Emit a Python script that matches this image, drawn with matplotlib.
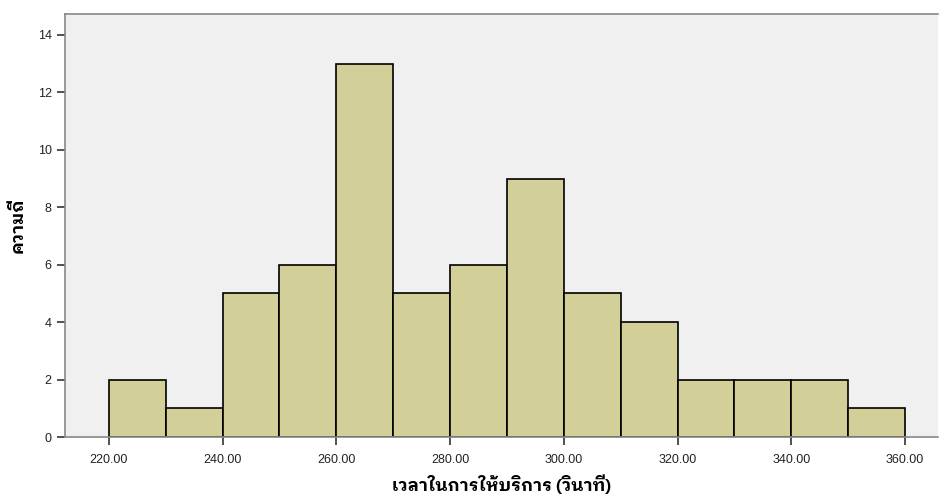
import numpy as np
import matplotlib
matplotlib.use("Agg")
import matplotlib.pyplot as plt

# histogram bins (seconds) and counts
bin_edges = [220, 230, 240, 250, 260, 270, 280, 290, 300, 310, 320, 330, 340, 350, 360]
counts = [2, 1, 5, 6, 13, 5, 6, 9, 5, 4, 2, 2, 2, 1]
x_ticks = [220, 240, 260, 280, 300, 320, 340, 360]
y_ticks = [0, 2, 4, 6, 8, 10, 12, 14]
x_label = "เวลาในการให้บริการ (วินาที)"
y_label = "ความถี่"

thai_fonts = ['IBM Plex Sans Thai Looped', 'Noto Sans Thai Looped', 'DejaVu Sans']
plt.rcParams['font.family'] = ['Liberation Sans', 'DejaVu Sans']

fig = plt.figure(figsize=(9.39, 4.99), dpi=100)
ax = fig.add_axes([0.0692, 0.1242, 0.9298, 0.8478])
ax.set_facecolor('#f0f0f0')

ax.bar(bin_edges[:-1], counts, width=np.diff(bin_edges), align='edge',
       color='#d3cf98', edgecolor='black', linewidth=1.2, zorder=2)

ax.set_xlim(212.3, 365.8)
ax.set_ylim(0, 14.73)
ax.set_xticks(x_ticks)
ax.set_xticklabels([f'{v:.2f}' for v in x_ticks])
ax.set_yticks(y_ticks)
ax.tick_params(axis='both', labelsize=9, color='#333333', length=6, width=1.2,
               labelcolor='#222222')
ax.tick_params(axis='x', pad=6)

for s in ['left', 'bottom', 'top', 'right']:
    ax.spines[s].set_color('#888888')
    ax.spines[s].set_linewidth(1.2)
ax.spines['right'].set_visible(False)

ax.set_xlabel(x_label, fontsize=12.5, fontweight='bold', labelpad=6, family=thai_fonts)
ax.set_ylabel(y_label, fontsize=12.5, fontweight='bold', labelpad=9, family=thai_fonts)

fig.savefig('out.png', dpi=100)
